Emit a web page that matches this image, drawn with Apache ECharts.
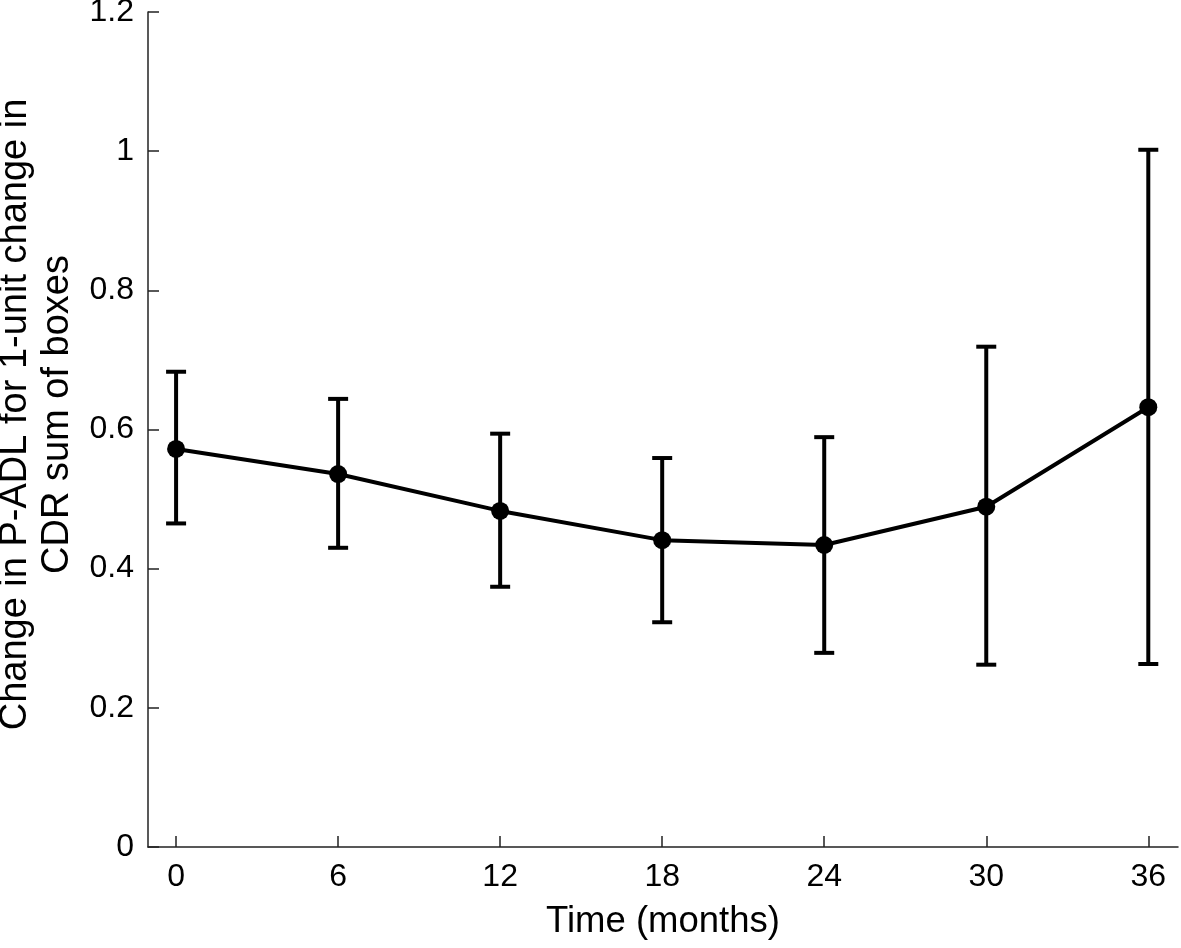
<!DOCTYPE html>
<html><head><meta charset="utf-8">
<script src="https://cdn.jsdelivr.net/npm/echarts@6/dist/echarts.min.js"></script>
<style>html,body{margin:0;padding:0;background:#fff}#c{width:1181px;height:948px}</style>
</head><body><div id="c"></div>
<script>
const months = [0, 6, 12, 18, 24, 30, 36];
const estimate = [0.572, 0.536, 0.483, 0.441, 0.434, 0.489, 0.632];
const lower = [0.465, 0.430, 0.374, 0.323, 0.279, 0.262, 0.263];
const upper = [0.683, 0.644, 0.594, 0.559, 0.589, 0.719, 1.002];
const xTicks = [0, 6, 12, 18, 24, 30, 36];

const font = '"Liberation Sans", Arial, sans-serif';
const chart = echarts.init(document.getElementById('c'));
chart.setOption({
  animation: false,
  backgroundColor: '#fff',
  grid: {left: 148, top: 12, right: 3, bottom: 101, outerBoundsMode: 'none', containLabel: false},
  xAxis: {
    type: 'value', min: -1.04, max: 37.1,
    name: 'Time (months)', nameLocation: 'middle', nameGap: 56,
    nameTextStyle: {fontFamily: font, fontSize: 36.5, color: '#000'},
    axisLine: {show: true, onZero: false, lineStyle: {color: '#222', width: 1.5}},
    axisTick: {show: true, inside: true, length: 11, customValues: xTicks, lineStyle: {color: '#222', width: 1.5}},
    axisLabel: {customValues: xTicks, fontFamily: font, fontSize: 32, color: '#000', margin: 14},
    splitLine: {show: false}
  },
  yAxis: {
    type: 'value', min: 0, max: 1.2, interval: 0.2,
    name: 'Change in P-ADL for 1-unit change in\nCDR sum of boxes', nameLocation: 'middle', nameGap: 66,
    nameTextStyle: {fontFamily: font, fontSize: 38, color: '#000', lineHeight: 42, padding: [0, 0, 0, 30]},
    axisLine: {show: true, onZero: false, lineStyle: {color: '#222', width: 1.5}},
    axisTick: {show: true, inside: true, length: 11, lineStyle: {color: '#222', width: 1.5}},
    axisLabel: {fontFamily: font, fontSize: 32, color: '#000', margin: 14},
    splitLine: {show: false}
  },
  series: [
    {
      type: 'custom',
      data: months.map((m, i) => [m, lower[i], upper[i]]),
      renderItem: function (params, api) {
        const x = api.value(0);
        const lo = api.coord([x, api.value(1)]);
        const hi = api.coord([x, api.value(2)]);
        const hw = 10;
        const st = {stroke: '#000', lineWidth: 4};
        return {type: 'group', children: [
          {type: 'line', shape: {x1: lo[0], y1: lo[1], x2: hi[0], y2: hi[1]}, style: st},
          {type: 'line', shape: {x1: lo[0] - hw, y1: lo[1], x2: lo[0] + hw, y2: lo[1]}, style: st},
          {type: 'line', shape: {x1: hi[0] - hw, y1: hi[1], x2: hi[0] + hw, y2: hi[1]}, style: st}
        ]};
      },
      z: 2
    },
    {
      type: 'line',
      data: months.map((m, i) => [m, estimate[i]]),
      symbol: 'circle', symbolSize: 18,
      lineStyle: {color: '#000', width: 4},
      itemStyle: {color: '#000'},
      z: 3
    }
  ]
});
</script></body></html>
